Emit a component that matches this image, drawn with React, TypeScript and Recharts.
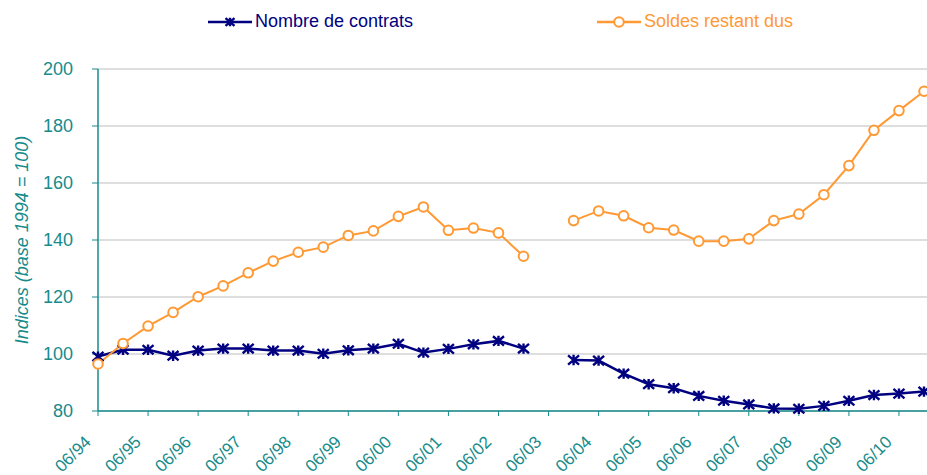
import { CartesianGrid, Legend, Line, LineChart, XAxis, YAxis } from "recharts";

const dates = [
  "06/94", "12/94", "06/95", "12/95", "06/96", "12/96", "06/97", "12/97",
  "06/98", "12/98", "06/99", "12/99", "06/00", "12/00", "06/01", "12/01",
  "06/02", "12/02", "06/03", "12/03", "06/04", "12/04", "06/05", "12/05",
  "06/06", "12/06", "06/07", "12/07", "06/08", "12/08", "06/09", "12/09",
  "06/10", "12/10",
];

const contrats: (number | null)[] = [
  99.1, 101.5, 101.5, 99.4, 101.2, 101.9, 101.9, 101.2,
  101.2, 100.1, 101.3, 101.9, 103.6, 100.5, 101.8, 103.4,
  104.6, 101.9, null, 97.9, 97.7, 93.1, 89.4, 88.0,
  85.3, 83.6, 82.3, 80.9, 80.8, 81.8, 83.6, 85.6,
  86.1, 86.8,
];

const soldes: (number | null)[] = [
  96.5, 103.7, 109.8, 114.6, 120.1, 123.9, 128.5, 132.6,
  135.7, 137.5, 141.6, 143.2, 148.3, 151.6, 143.4, 144.2,
  142.5, 134.3, null, 146.8, 150.2, 148.5, 144.3, 143.5,
  139.6, 139.6, 140.4, 146.8, 149.1, 155.9, 166.1, 178.5,
  185.4, 192.2,
];

const yTicks = [80, 100, 120, 140, 160, 180, 200];

const data = dates.map((d, i) => ({ date: d, contrats: contrats[i], soldes: soldes[i] }));

const TEAL = "#168b8b";
const NAVY = "#000080";
const ORANGE = "#ff9933";
const FONT = "'Liberation Sans', Arial, sans-serif";

function Star({ cx, cy, size = 5.5 }: { cx?: number; cy?: number; size?: number }) {
  if (cx == null || cy == null) return null;
  const s = size;
  const v = s * 0.85;
  return (
    <path
      d={`M${cx - s},${cy - v}L${cx + s},${cy + v}M${cx - s},${cy + v}L${cx + s},${cy - v}M${cx},${cy - v - 0.5}L${cx},${cy + v + 0.5}`}
      stroke={NAVY}
      strokeWidth={2.4}
      fill="none"
    />
  );
}

function Ring({ cx, cy }: { cx?: number; cy?: number }) {
  if (cx == null || cy == null) return null;
  return <circle cx={cx} cy={cy} r={4.8} stroke={ORANGE} strokeWidth={2} fill="#fff" />;
}

function XTick(props: any) {
  const { x, y, payload } = props;
  return (
    <g transform={`translate(${x - 6},${y + 27}) rotate(-45)`}>
      <text x={0} y={0} textAnchor="end" fill={TEAL} fontSize={17} fontFamily={FONT}>
        {payload.value}
      </text>
    </g>
  );
}

function LegendBox() {
  const item = (label: string, color: string, marker: "star" | "ring", width: number) => (
    <div style={{ display: "flex", alignItems: "center", width }}>
      <svg width={46} height={16}>
        <line x1={0} y1={8} x2={44} y2={8} stroke={color} strokeWidth={2.5} />
        {marker === "star" ? <Star cx={22} cy={8} size={4.5} /> : <Ring cx={22} cy={8} />}
      </svg>
      <span style={{ color, fontSize: 18, fontFamily: FONT, marginLeft: 1 }}>{label}</span>
    </div>
  );
  return (
    <div style={{ display: "flex", paddingLeft: 208 }}>
      {item("Nombre de contrats", NAVY, "star", 389)}
      {item("Soldes restant dus", ORANGE, "ring", 220)}
    </div>
  );
}

export default function App() {
  return (
    <div style={{ position: "absolute", left: 0, top: 0, background: "#fff" }}>
      <LineChart
        width={927}
        height={475}
        data={data}
        margin={{ top: 69, right: 0, bottom: 4, left: 38 }}
      >
        <CartesianGrid vertical={false} stroke="#bdbdbd" strokeWidth={1.2} />
        <XAxis
          dataKey="date"
          interval={1}
          padding={{ left: 0, right: 3 }}
          axisLine={{ stroke: TEAL, strokeWidth: 1.5 }}
          tickLine={{ stroke: TEAL }}
          tickSize={5}
          tickMargin={0}
          height={60}
          tick={<XTick />}
        />
        <YAxis
          domain={[80, 200]}
          ticks={yTicks}
          width={60}
          axisLine={{ stroke: TEAL, strokeWidth: 1.5 }}
          tickLine={{ stroke: TEAL }}
          tickSize={6}
          tickMargin={19}
          tick={{ fill: TEAL, fontSize: 18, fontFamily: FONT }}
          label={{
            value: "Indices (base 1994 = 100)",
            angle: -90,
            position: "insideLeft",
            dx: -21,
            dy: 0,
            style: { fill: TEAL, fontSize: 18, fontStyle: "italic", fontFamily: FONT, textAnchor: "middle" },
          }}
        />
        <Legend
          layout="horizontal"
          verticalAlign="middle"
          align="center"
          wrapperStyle={{ top: 11, left: 0, width: 927 }}
          content={<LegendBox />}
        />
        <Line
          type="linear"
          dataKey="contrats"
          name="Nombre de contrats"
          stroke={NAVY}
          strokeWidth={2.5}
          dot={<Star />}
          activeDot={false}
          isAnimationActive={false}
        />
        <Line
          type="linear"
          dataKey="soldes"
          name="Soldes restant dus"
          stroke={ORANGE}
          strokeWidth={2}
          dot={<Ring />}
          activeDot={false}
          isAnimationActive={false}
        />
      </LineChart>
    </div>
  );
}
